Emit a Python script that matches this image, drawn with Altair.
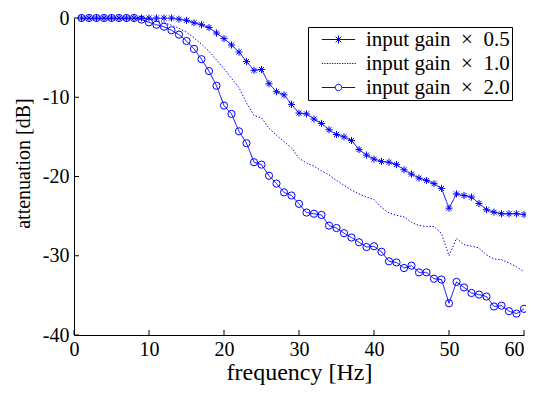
import altair as alt
import pandas as pd

freq = list(range(1, 61))
gain_05 = [0, 0, 0, 0, 0, 0, 0, 0, 0, 0, 0, 0, 0, -0.15, -0.3, -0.6, -0.85, -1.2, -1.9, -2.6,
           -3.4, -4.3, -5.5, -6.6, -6.5, -8.3, -9.3, -9.7, -10.9, -12.0,
           -12.1, -12.75, -13.3, -14.1, -14.7, -15.0, -15.45, -16.6, -17.3, -17.8,
           -18.1, -18.2, -18.5, -19.15, -19.7, -20.2, -20.5, -20.9, -21.5, -24.0,
           -22.2, -22.4, -22.6, -23.4, -24.2, -24.5, -24.7, -24.7, -24.7, -24.8]
gain_10 = [0, 0, 0, 0, 0, 0, 0, 0, 0, -0.1, -0.3, -0.6, -0.9, -1.3, -1.8, -2.5, -3.3, -4.2, -5.3, -6.4,
           -7.6, -8.8, -10.7, -12.3, -12.6, -13.9, -14.8, -15.6, -16.4, -17.7,
           -18.3, -18.7, -19.3, -19.8, -20.5, -21.1, -21.7, -22.2, -22.6, -22.9,
           -23.9, -24.6, -24.9, -25.1, -25.8, -26.2, -26.3, -26.3, -27.2, -30.0,
           -27.8, -28.6, -28.8, -29.0, -29.9, -30.4, -30.5, -30.9, -31.4, -32.0]
gain_20 = [0, 0, 0, 0, 0, 0, 0, 0, -0.2, -0.55, -0.85, -1.1, -1.55, -2.1, -2.9, -3.9, -5.2, -6.7, -8.55, -11.05,
           -12.1, -14.3, -15.8, -18.2, -18.5, -19.9, -20.9, -22.0, -22.4, -23.45,
           -24.55, -24.7, -24.85, -26.2, -26.5, -27.15, -27.7, -28.3, -28.9, -28.8,
           -29.5, -30.7, -30.85, -31.55, -31.25, -32.1, -32.1, -32.9, -33.0, -36.0,
           -33.3, -34.0, -34.7, -34.9, -35.15, -36.4, -36.3, -37.0, -37.3, -36.7]
labels = ["input gain\u2002×\u20020.5", "input gain\u2002×\u20021.0", "input gain\u2002×\u20022.0"]
x_ticks = [0, 10, 20, 30, 40, 50, 60]
y_ticks = [-40, -30, -20, -10, 0]

rows = []
for lab, vals in zip(labels, [gain_05, gain_10, gain_20]):
    for f, v in zip(freq, vals):
        rows.append({"freq": f, "dB": v, "series": lab})
df = pd.DataFrame(rows)

BLUE = "#0000ff"
FONT = "Liberation Serif"
W, H = 450, 317

xs = alt.Scale(domain=[0, 60], nice=False, zero=False)
ys = alt.Scale(domain=[-40, 0], nice=False, zero=False)

x_axis = alt.Axis(values=x_ticks, ticks=False, grid=False, domainColor="black", domainWidth=1,
                  labelFont=FONT, labelFontSize=20, labelColor="black", labelPadding=4,
                  labelFlush=False, labelExpr="'' + datum.value",
                  labelAlign=alt.ExprRef(expr="datum.value == 60 ? 'right' : 'center'"),
                  title="frequency [Hz]", titleFont=FONT, titleFontSize=24,
                  titleFontWeight="normal", titleColor="black",
                  titleY=44, titleBaseline="alphabetic")
y_axis = alt.Axis(values=y_ticks, ticks=False, grid=False, domainColor="black", domainWidth=1,
                  labelFont=FONT, labelFontSize=20, labelColor="black", labelPadding=5,
                  labelFlush=False, labelExpr="'' + datum.value",
                  title="attenuation [dB]", titleFont=FONT, titleFontSize=20,
                  titleFontWeight="normal", titleColor="black",
                  titleX=-51, titleY=145, titleBaseline="middle", titleAlign="center", titleAngle=270)

ASTER = "M-1.1,0L1.1,0M0,-1.1L0,1.1M-0.78,-0.78L0.78,0.78M-0.78,0.78L0.78,-0.78"

# legend symbols (unit = 9px for symbolSize 324)
L = 1.85
leg_star = (f"M{-L},0L{L},0M0,-0.45L0,0.45M-0.32,-0.32L0.32,0.32M-0.32,0.32L0.32,-0.32")
dots = "".join(f"M{(-L + i * 0.28):.2f},0h0.14" for i in range(int(2 * L / 0.28) + 1))
r = 0.36
leg_circ = (f"M{-L},0L{-r},0M{r},0L{L},0M{-r},0A{r},{r} 0 1,0 {r},0A{r},{r} 0 1,0 {-r},0")
legend_paths = [leg_star, dots, leg_circ]

base = alt.Chart(df)
lines = base.mark_line(color=BLUE, strokeWidth=1, clip=True).encode(
    x=alt.X("freq:Q", scale=xs, axis=x_axis),
    y=alt.Y("dB:Q", scale=ys, axis=y_axis),
    detail="series:N",
    strokeDash=alt.StrokeDash("series:N", scale=alt.Scale(domain=labels, range=[[1, 0], [1.4, 1.8], [1, 0]]),
                              legend=None),
    strokeWidth=alt.StrokeWidth("series:N", scale=alt.Scale(domain=labels, range=[1, 1.4, 1]), legend=None),
)
stars = base.transform_filter(alt.datum.series == labels[0]).mark_point(
    shape=ASTER, filled=False, color=BLUE, size=42, strokeWidth=1, opacity=1).encode(
    x="freq:Q", y="dB:Q")
circles = base.transform_filter(alt.datum.series == labels[2]).mark_point(
    shape="circle", filled=False, color=BLUE, size=52, strokeWidth=1, opacity=1).encode(
    x="freq:Q", y="dB:Q")

legend_df = pd.DataFrame({"entry": labels, "freq": [-100] * 3, "dB": [-20] * 3})
legend_layer = alt.Chart(legend_df).mark_point(filled=False, color=BLUE, clip=True, strokeWidth=1, opacity=1).encode(
    x="freq:Q", y="dB:Q",
    shape=alt.Shape("entry:N", scale=alt.Scale(domain=labels, range=legend_paths),
                    legend=alt.Legend(title=None, orient="none", legendX=234, legendY=9,
                                      strokeColor="black", fillColor="white", padding=2,
                                      labelFont=FONT, labelFontSize=21, labelColor="black",
                                      symbolSize=324, symbolStrokeWidth=1, symbolStrokeColor=BLUE,
                                      symbolOffset=18, labelOffset=17, rowPadding=2,
                                      labelLimit=300)),
)

xt_df = pd.DataFrame({"freq": x_ticks})
yt_df = pd.DataFrame({"dB": y_ticks})
xticks = alt.Chart(xt_df).mark_rule(color="black", strokeWidth=1).encode(
    x="freq:Q", y=alt.value(H), y2=alt.value(H - 5))
yticks = alt.Chart(yt_df).mark_rule(color="black", strokeWidth=1).encode(
    y="dB:Q", x=alt.value(0), x2=alt.value(5))

chart = alt.layer(lines, stars, circles, legend_layer, xticks, yticks).resolve_scale(
    shape="independent").properties(
    width=W, height=H,
    autosize=alt.AutoSizeParams(type="none"),
    padding={"left": 66, "top": 10, "right": 2, "bottom": 50},
).configure_view(stroke=None)

chart.save("out.html", embed_options={"renderer": "svg", "actions": False})
